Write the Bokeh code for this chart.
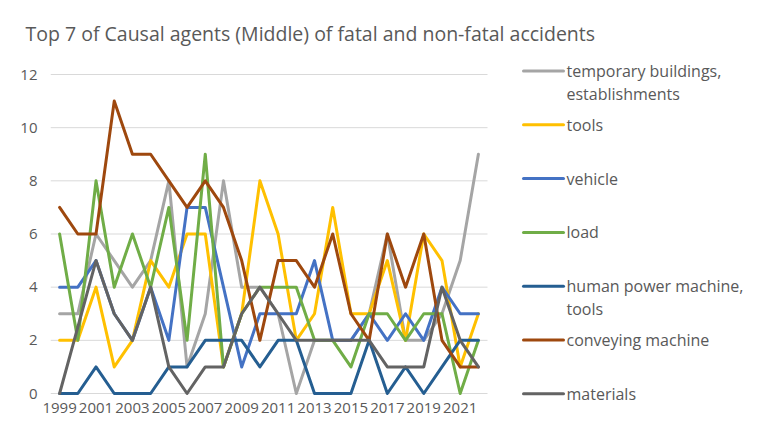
from bokeh.plotting import figure
from bokeh.models import FixedTicker, Range1d
from bokeh.core.properties import value
from bokeh.embed import file_html
from bokeh.resources import INLINE

years = list(range(1999, 2023))
tick_years = list(range(1999, 2022, 2))
y_ticks = [0, 2, 4, 6, 8, 10, 12]

temporary_buildings = [3, 3, 6, 5, 4, 5, 8, 1, 3, 8, 4, 4, 3, 0, 2, 2, 2, 3, 6, 2, 2, 3, 5, 9]
tools = [2, 2, 4, 1, 2, 5, 4, 6, 6, 1, 3, 8, 6, 2, 3, 7, 3, 3, 5, 2, 6, 5, 1, 3]
vehicle = [4, 4, 5, 3, 2, 4, 2, 7, 7, 4, 1, 3, 3, 3, 5, 2, 2, 3, 2, 3, 2, 4, 3, 3]
load = [6, 2, 8, 4, 6, 4, 7, 2, 9, 1, 3, 4, 4, 4, 2, 2, 1, 3, 3, 2, 3, 3, 0, 2]
human_power_machine = [0, 0, 1, 0, 0, 0, 1, 1, 2, 2, 2, 1, 2, 2, 0, 0, 0, 2, 0, 1, 0, 1, 2, 2]
conveying_machine = [7, 6, 6, 11, 9, 9, 8, 7, 8, 7, 5, 2, 5, 5, 4, 6, 3, 2, 6, 4, 6, 2, 1, 1]
materials = [0, 2.5, 5, 3, 2, 4, 1, 0, 1, 1, 3, 4, 3, 2, 2, 2, 2, 2, 1, 1, 1, 4, 2, 1]

series_labels = [
    ["temporary buildings,", "establishments"],
    ["tools"],
    ["vehicle"],
    ["load"],
    ["human power machine,", "tools"],
    ["conveying machine"],
    ["materials"],
]
series_values = [temporary_buildings, tools, vehicle, load,
                 human_power_machine, conveying_machine, materials]
colors = ["#A5A5A5", "#FFC000", "#4472C4", "#70AD47", "#255E91", "#9E480E", "#636363"]

title_text = "Top 7 of Causal agents (Middle) of fatal and non-fatal accidents"
TEXT = "#595959"
GRID = "#D9D9D9"
FONT = "Open Sans"

# ---- pixel geometry of the canvas ----
W, H = 760, 435
FRAME_L, FRAME_R, FRAME_T, FRAME_B = 50, 760, 50, 404
PLOT_L, PLOT_R = 50, 487           # category area (1998.5 .. 2022.5)
Y0_PX, Y12_PX = 393, 74            # pixel rows of value 0 and 12
x_start = years[0] - 0.5
x_per_px = (len(years)) / (PLOT_R - PLOT_L)
y_per_px = 12 / (Y0_PX - Y12_PX)


def X(px):
    return x_start + (px - FRAME_L) * x_per_px


def Y(py):
    return (Y0_PX - py) * y_per_px


p = figure(frame_width=FRAME_R - FRAME_L, frame_height=FRAME_B - FRAME_T,
           min_border_left=FRAME_L, min_border_right=W - FRAME_R,
           min_border_top=FRAME_T, min_border_bottom=H - FRAME_B,
           x_range=Range1d(X(FRAME_L), X(FRAME_R)),
           y_range=Range1d(Y(FRAME_B), Y(FRAME_T)),
           title=title_text,
           output_backend="svg", toolbar_location=None)
p.outline_line_color = None
p.background_fill_color = "white"
p.border_fill_color = "white"
p.xgrid.grid_line_color = None
p.ygrid.grid_line_color = None

p.title.align = "left"
p.title.offset = 25 - FRAME_L
p.title.standoff = 8
p.title.text_font = FONT
p.title.text_font_size = "19.5px"
p.title.text_font_style = "normal"
p.title.text_color = TEXT

# horizontal gridlines over the category area only
p.segment(x0=[x_start] * len(y_ticks), x1=[years[-1] + 0.5] * len(y_ticks),
          y0=y_ticks, y1=y_ticks, line_color=GRID, line_width=1)

for vals, c in zip(series_values, colors):
    p.line(years, vals, line_width=3, line_color=c,
           line_join="round", line_cap="round")

p.xaxis.ticker = FixedTicker(ticks=tick_years)
p.yaxis.ticker = FixedTicker(ticks=y_ticks)
for ax in (p.xaxis, p.yaxis):
    ax.axis_line_color = None
    ax.major_tick_line_color = None
    ax.minor_tick_line_color = None
    ax.major_label_text_font = FONT
    ax.major_label_text_font_size = "15px"
    ax.major_label_text_color = TEXT
p.yaxis.major_label_standoff = 7
p.xaxis.major_label_standoff = -8

# legend
first_y, step, line2 = 70.5, 53.8, 23
seg_x0, seg_x1, txt_x = X(523), X(563), X(566)
for i, (lab, c) in enumerate(zip(series_labels, colors)):
    yc = first_y + i * step
    p.segment(x0=[seg_x0], x1=[seg_x1], y0=[Y(yc)], y1=[Y(yc)],
              line_color=c, line_width=3, line_cap="round")
    p.text(x=[txt_x] * len(lab), y=[Y(yc + j * line2) for j in range(len(lab))],
           text=lab, text_font=value(FONT), text_font_size=value("16px"),
           text_color=TEXT, text_baseline="middle", text_align="left")

open("out.html", "w").write(file_html(p, INLINE))
